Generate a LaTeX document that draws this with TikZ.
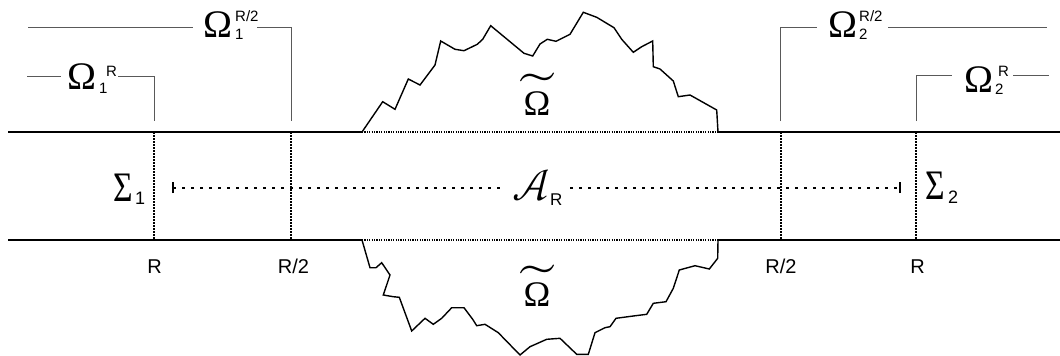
\documentclass[tikz,border=0pt]{standalone}
\usepackage{unicode-math}
\setmathfont{Latin Modern Math}
\setsansfont{Liberation Sans}
\newfontfamily\tms{Liberation Serif}
\begin{document}
\begin{tikzpicture}[x=1pt,y=-1pt,
  mainline/.style={line width=1.6pt},
  thindots/.style={line width=1.2pt, dash pattern=on 1.2pt off 1.2pt},
  vdots/.style={line width=1.5pt, dash pattern=on 1.5pt off 1.5pt},
  midline/.style={line width=1.3pt, dash pattern=on 3pt off 6pt},
  tickline/.style={line width=1.3pt},
  bracket/.style={line width=1pt, draw=black!65},
  rough/.style={line width=1.4pt, line join=miter},
  bigom/.style={inner sep=0pt, anchor=base, font=\fontsize{39}{39}\selectfont\tms},
  midom/.style={inner sep=0pt, anchor=base, font=\fontsize{36}{36}\selectfont\tms},
  tildemark/.style={inner sep=0pt, anchor=north, font=\fontsize{36}{36}\selectfont},
  bigsig/.style={inner sep=0pt, anchor=base, font=\fontsize{42}{42}\selectfont\tms},
  scr/.style={inner sep=0pt, anchor=base west, font=\fontsize{15}{15}\selectfont\sffamily},
  sscr/.style={inner sep=0pt, anchor=base west, font=\fontsize{18}{18}\selectfont\sffamily},
  rlab/.style={inner sep=0pt, anchor=base, font=\fontsize{20}{20}\selectfont\sffamily},
]
\useasboundingbox (0,0) rectangle (1060,356);

% main coordinates
\coordinate (TL) at (8,132);
\coordinate (TR) at (1060,132);
\coordinate (BL) at (8,240);
\coordinate (BR) at (1060,240);
\coordinate (T1) at (362,132);
\coordinate (T2) at (718,132);
\coordinate (B1) at (362,240);
\coordinate (B2) at (718,240);

% top and bottom boundary lines
\draw[mainline] (TL) -- (T1);
\draw[mainline] (T2) -- (TR);
\draw[thindots] (T1) -- (T2);
\draw[mainline] (BL) -- (B1);
\draw[mainline] (B2) -- (BR);
\draw[thindots] (B1) -- (B2);

% rough upper curve
\draw[rough] (T1) -- (382.7,101.7) -- (395,109.3) -- (408.3,79) -- (420,85) -- (435,65)
  -- (440.7,41) -- (455,49.3) -- (464,50.7) -- (477.3,44.3) -- (482.7,39.3) -- (490.7,25.7)
  -- (524,53.3) -- (532.7,56) -- (540,44) -- (547.3,39.3) -- (556,41.3) -- (570,34.3)
  -- (583.3,12.3) -- (596.7,17.3) -- (614,27.7) -- (621.7,39.3) -- (633.3,52.3)
  -- (641.7,46.7) -- (652.7,41) -- (653.3,66.7) -- (660,69) -- (673.3,81) -- (678.3,96.7)
  -- (690,95) -- (716.7,110) -- (T2);

% rough lower curve
\draw[rough] (B1) -- (370,267.7) -- (376,267.7) -- (381.7,262.7) -- (390,275) -- (383.3,295)
  -- (393.3,296.7) -- (399.3,297.3) -- (411.7,331) -- (425,318.3) -- (433.3,324.3)
  -- (441.7,318.3) -- (451.7,307.7) -- (464,307.7) -- (472.7,319.3) -- (476.7,325.7)
  -- (485,324.3) -- (498.3,332.7) -- (520,355) -- (530,346.7) -- (546.7,339.3)
  -- (560,338.3) -- (576.7,354.3) -- (588.3,354.3) -- (595,332.7) -- (605,327.7)
  -- (610,326.7) -- (616,318.3) -- (633.3,316) -- (646.7,314.3) -- (653.3,303.3)
  -- (666,301.7) -- (673.3,288.3) -- (679.3,270) -- (695,265.7) -- (709.3,269)
  -- (717.7,258.3) -- (B2);

% vertical dotted cuts
\coordinate (v1t) at (154,132); \coordinate (v1b) at (154,240);
\coordinate (v2t) at (291,132); \coordinate (v2b) at (291,240);
\coordinate (v3t) at (781,132); \coordinate (v3b) at (781,240);
\coordinate (v4t) at (916,132); \coordinate (v4b) at (916,240);
\draw[vdots] (v1t) -- (v1b);
\draw[vdots] (v2t) -- (v2b);
\draw[vdots] (v3t) -- (v3b);
\draw[vdots] (v4t) -- (v4b);

% labels Omega_1^R
\node[bigom] (o1R) at (82,89) {Ω};
\node[scr] (o1Rsup) at (106,76) {R};
\node[scr] (o1Rsub) at (99,93) {1};
\coordinate (o1Ra) at (27,76); \coordinate (o1Rb) at (61,76);
\coordinate (o1Rc) at (118,76); \coordinate (o1Rd) at (154,76); \coordinate (o1Re) at (154,121);
\draw[bracket] (o1Ra) -- (o1Rb);
\draw[bracket] (o1Rc) -- (o1Rd) -- (o1Re);

% Omega_1^{R/2}
\node[bigom] (o1H) at (218,37) {Ω};
\node[scr] (o1Hsup) at (235,21) {R/2};
\node[scr] (o1Hsub) at (235,39) {1};
\coordinate (o1Ha) at (28,27); \coordinate (o1Hb) at (193,27);
\coordinate (o1Hc) at (257,27); \coordinate (o1Hd) at (291,27); \coordinate (o1He) at (291,121);
\draw[bracket] (o1Ha) -- (o1Hb);
\draw[bracket] (o1Hc) -- (o1Hd) -- (o1He);

% Omega_2^{R/2}
\node[bigom] (o2H) at (842.5,37) {Ω};
\node[scr] (o2Hsup) at (859,21) {R/2};
\node[scr] (o2Hsub) at (859,39) {2};
\coordinate (o2Ha) at (780,121); \coordinate (o2Hb) at (780,27); \coordinate (o2Hc) at (817,27);
\coordinate (o2Hd) at (888,27); \coordinate (o2He) at (1047,27);
\draw[bracket] (o2Ha) -- (o2Hb) -- (o2Hc);
\draw[bracket] (o2Hd) -- (o2He);

% Omega_2^R
\node[bigom] (o2R) at (978.5,92) {Ω};
\node[scr] (o2Rsup) at (998,76) {R};
\node[scr] (o2Rsub) at (995,94) {2};
\coordinate (o2Ra) at (916,121); \coordinate (o2Rb) at (916,75); \coordinate (o2Rc) at (952,75);
\coordinate (o2Rd) at (1013,75); \coordinate (o2Re) at (1049,75);
\draw[bracket] (o2Ra) -- (o2Rb) -- (o2Rc);
\draw[bracket] (o2Rd) -- (o2Re);

% Sigma labels
\node[bigsig] (s1) at (123,201) {\scalebox{0.8}[1]{Σ}};
\node[sscr] (s1sub) at (135,204) {1};
\node[bigsig] (s2) at (935,199) {\scalebox{0.8}[1]{Σ}};
\node[sscr] (s2sub) at (948,203) {2};

% A_R with dashed line
\node[inner sep=0pt, anchor=center, font=\fontsize{44}{44}\selectfont] (A) at (531,185.5) {$\mathcal{A}$};
\node[inner sep=0pt, anchor=base west, font=\fontsize{17}{17}\selectfont\sffamily] (Asub) at (550,205) {R};
\coordinate (dl) at (173,188);
\coordinate (dr) at (900,188);
\coordinate (gapl) at (502,188);
\coordinate (gapr) at (570,188);
\draw[midline] (dl) -- (gapl);
\draw[midline] (gapr) -- (dr);
\draw[tickline] ([yshift=-5pt]dl) -- ([yshift=6pt]dl);
\draw[tickline] ([yshift=-5pt]dr) -- ([yshift=6pt]dr);

% tilde Omegas
\node[midom] (ot) at (537,115) {Ω};
\node[tildemark] (ott) at (537.5,73) {\scalebox{1.45}[1.2]{$\widetilde{\hbox to 24pt{}}$}};
\node[midom] (ob) at (537,306) {Ω};
\node[tildemark] (obt) at (537.5,265) {\scalebox{1.45}[1.2]{$\widetilde{\hbox to 24pt{}}$}};

% R labels
\node[rlab] (r1) at (154.5,273) {R};
\node[rlab] (r2) at (293.5,273) {R/2};
\node[rlab] (r3) at (781,273) {R/2};
\node[rlab] (r4) at (917.5,273) {R};
\end{tikzpicture}
\end{document}
